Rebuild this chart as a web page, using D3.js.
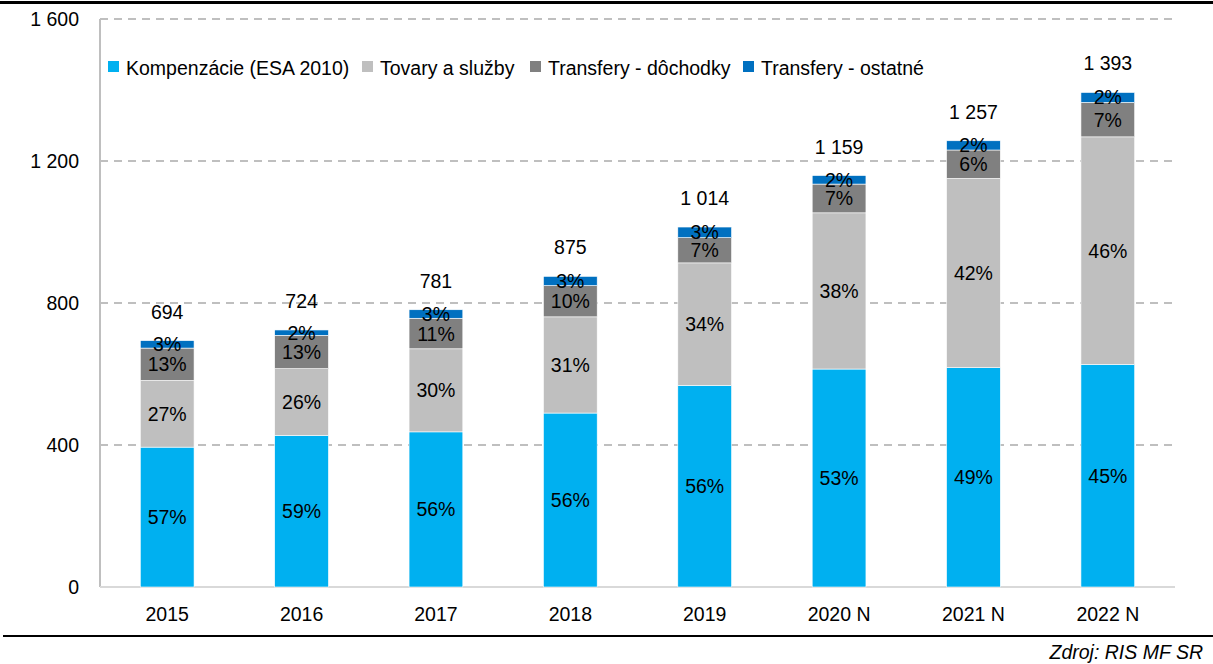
<!DOCTYPE html>
<html>
<head>
<meta charset="utf-8">
<script src="https://cdn.jsdelivr.net/npm/d3@7"></script>
<style>
  body { margin: 0; background: #fff; }
  svg { font-family: "Liberation Sans", Arial, sans-serif; }
</style>
</head>
<body>
<div id="chart"></div>
<script>
// roky
const years = ["2015", "2016", "2017", "2018", "2019", "2020 N", "2021 N", "2022 N"];

// hodnoty (mil. eur)
const kompenzacie = [394, 427, 437, 490, 568, 614, 618, 627];
const tovary = [188, 188, 234, 271, 345, 440, 533, 641];
const transferyDochodky = [91, 94, 86, 88, 71, 81, 80, 97];
const transferyOstatne = [21, 15, 24, 26, 30, 24, 26, 28];

const seriesNames = ["Kompenzácie (ESA 2010)", "Tovary a služby", "Transfery - dôchodky", "Transfery - ostatné"];
const seriesColors = ["#00B0F0", "#BFBFBF", "#808080", "#0070C0"];
const yTicks = [0, 400, 800, 1200, 1600];

const W = 1213, H = 664;
const margin = { top: 19, right: 38, bottom: 77, left: 100 };
const width = W - margin.left - margin.right;
const height = H - margin.top - margin.bottom;
const fs = "19.5px";

const keys = ["k", "t", "d", "o"];
const data = years.map((y, i) => ({
  year: y,
  k: kompenzacie[i],
  t: tovary[i],
  d: transferyDochodky[i],
  o: transferyOstatne[i]
}));
data.forEach(d => d.total = d3.sum(keys, k => d[k]));

const fmt = v => d3.format(",")(v).replace(/,/g, " ");

const svg = d3.select("#chart").append("svg")
  .attr("width", W)
  .attr("height", H);

// horna ciara
svg.append("rect")
  .attr("x", 0).attr("y", 1)
  .attr("width", W).attr("height", 3)
  .attr("fill", "#000");

const g = svg.append("g").attr("transform", `translate(${margin.left},${margin.top})`);

const x = d3.scaleBand().domain(years).range([0, width]).paddingInner(0.6).paddingOuter(0.3);
const y = d3.scaleLinear().domain([0, 1600]).range([height, 0]);

// mriezka
g.selectAll(".grid")
  .data(yTicks.filter(t => t > 0))
  .enter().append("line")
  .attr("x1", 0).attr("x2", width - 2)
  .attr("y1", d => y(d)).attr("y2", d => y(d))
  .attr("stroke", "#BFBFBF")
  .attr("stroke-width", 2)
  .attr("stroke-dasharray", "8,6");

// osi
g.append("line")
  .attr("x1", 0).attr("x2", 0)
  .attr("y1", 0).attr("y2", height)
  .attr("stroke", "#BFBFBF").attr("stroke-width", 2);
g.append("line")
  .attr("x1", 0).attr("x2", width)
  .attr("y1", height).attr("y2", height)
  .attr("stroke", "#D9D9D9").attr("stroke-width", 2);

const yAxis = g.append("g")
  .call(d3.axisLeft(y).tickValues(yTicks).tickSize(0).tickPadding(21).tickFormat(fmt));
yAxis.select(".domain").remove();
yAxis.selectAll("text").style("font-size", fs).style("fill", "#000")
  .style("font-family", "'Liberation Sans', Arial, sans-serif");

const xAxis = g.append("g")
  .attr("transform", `translate(0,${height})`)
  .call(d3.axisBottom(x).tickSize(0).tickPadding(20));
xAxis.select(".domain").remove();
xAxis.selectAll("text").style("font-size", fs).style("fill", "#000")
  .style("font-family", "'Liberation Sans', Arial, sans-serif");

// stlpce
const stack = d3.stack().keys(keys);
const stacked = stack(data);

const layers = g.selectAll(".layer")
  .data(stacked)
  .enter().append("g")
  .attr("fill", (d, i) => seriesColors[i]);

layers.selectAll("rect")
  .data(d => d)
  .enter().append("rect")
  .attr("x", d => x(d.data.year))
  .attr("y", d => y(d[1]))
  .attr("width", x.bandwidth())
  .attr("height", d => y(d[0]) - y(d[1]))
  .attr("stroke", "#fff")
  .attr("stroke-width", 0.6);

// percenta
stacked.forEach(layer => {
  g.selectAll(null)
    .data(layer)
    .enter().append("text")
    .attr("x", d => x(d.data.year) + x.bandwidth() / 2)
    .attr("y", d => (y(d[0]) + y(d[1])) / 2)
    .attr("dy", "0.36em")
    .attr("text-anchor", "middle")
    .style("font-size", fs)
    .text(d => Math.round((d[1] - d[0]) / d.data.total * 100) + "%");
});

// sucty
g.selectAll(".total")
  .data(data)
  .enter().append("text")
  .attr("x", d => x(d.year) + x.bandwidth() / 2)
  .attr("y", d => y(d.total) - 22)
  .attr("text-anchor", "middle")
  .style("font-size", fs)
  .text(d => fmt(d.total));

// legenda
const legendX = [108, 362, 530, 743];
const legend = svg.append("g");
seriesNames.forEach((name, i) => {
  legend.append("rect")
    .attr("x", legendX[i]).attr("y", 61)
    .attr("width", 11).attr("height", 11)
    .attr("fill", seriesColors[i]);
  legend.append("text")
    .attr("x", legendX[i] + 18).attr("y", 75)
    .style("font-size", "19.5px")
    .text(name);
});

// spodna ciara a zdroj
svg.append("rect")
  .attr("x", 3).attr("y", 635)
  .attr("width", W - 3).attr("height", 2)
  .attr("fill", "#000");
svg.append("text")
  .attr("x", 1203).attr("y", 659)
  .attr("text-anchor", "end")
  .style("font-size", "19.5px")
  .style("font-style", "italic")
  .text("Zdroj: RIS MF SR");
</script>
</body>
</html>
